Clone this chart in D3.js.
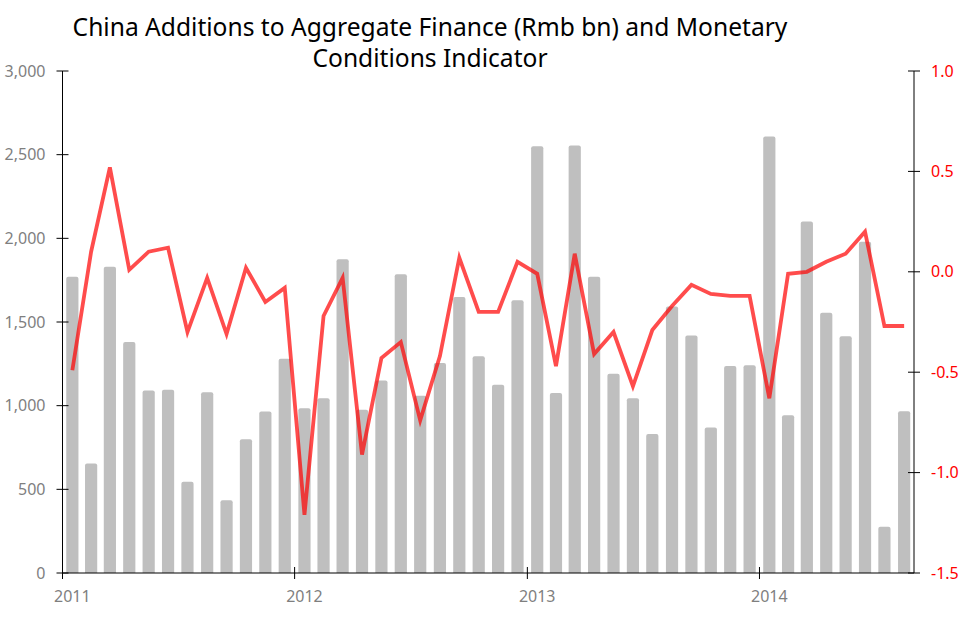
<!DOCTYPE html>
<html>
<head>
<meta charset="utf-8">
<script src="https://cdn.jsdelivr.net/npm/d3@7"></script>
<style>
  html, body { margin: 0; padding: 0; background: #fff; }
  svg { display: block; }
  text { font-family: "Noto Sans", "Open Sans", sans-serif; }
</style>
</head>
<body>
<svg id="chart" width="978" height="639"></svg>
<script>
// ---- data ----
const months = [
  "2011-01","2011-02","2011-03","2011-04","2011-05","2011-06","2011-07","2011-08","2011-09","2011-10","2011-11","2011-12",
  "2012-01","2012-02","2012-03","2012-04","2012-05","2012-06","2012-07","2012-08","2012-09","2012-10","2012-11","2012-12",
  "2013-01","2013-02","2013-03","2013-04","2013-05","2013-06","2013-07","2013-08","2013-09","2013-10","2013-11","2013-12",
  "2014-01","2014-02","2014-03","2014-04","2014-05","2014-06","2014-07","2014-08"
];
const aggregateFinance = [
  1770, 655, 1830, 1380, 1090, 1095, 545, 1080, 435, 800, 965, 1280,
  985, 1045, 1875, 975, 1150, 1785, 1060, 1255, 1650, 1295, 1125, 1630,
  2550, 1075, 2555, 1770, 1190, 1045, 830, 1592, 1420, 870, 1237, 1242,
  2608, 942, 2100, 1555, 1415, 1980, 277, 967
];
const monetaryConditions = [
  -0.49, 0.10, 0.52, 0.01, 0.10, 0.12, -0.30, -0.03, -0.31, 0.02, -0.15, -0.08,
  -1.21, -0.22, -0.03, -0.91, -0.43, -0.35, -0.74, -0.42, 0.07, -0.20, -0.20, 0.05,
  -0.01, -0.47, 0.09, -0.41, -0.30, -0.57, -0.29, -0.17, -0.065, -0.11, -0.12, -0.12,
  -0.63, -0.01, 0.00, 0.05, 0.09, 0.20, -0.27, -0.27
];
const leftTicks = [0, 500, 1000, 1500, 2000, 2500, 3000];
const rightTicks = [-1.5, -1.0, -0.5, 0.0, 0.5, 1.0];
const yearTicks = ["2011", "2012", "2013", "2014"];
const titleLines = ["China Additions to Aggregate Finance (Rmb bn) and Monetary", "Conditions Indicator"];

// ---- layout ----
const svg = d3.select("#chart");
const pL = 62.5, pR = 914, pT = 71, pB = 573;
const parseM = d3.timeParse("%Y-%m");
const dates = months.map(parseM);

const x = d3.scaleTime()
  .domain([new Date(2011, 0, 1), new Date(2014, 8, 1)])
  .range([pL, pR]);
const yL = d3.scaleLinear().domain([0, 3000]).range([pB, pT]);
const yR = d3.scaleLinear().domain([-1.5, 1.0]).range([pB, pT]);

const mid = d => {
  const n = d3.timeMonth.offset(d, 1);
  return (x(d) + x(n)) / 2;
};
const barW = 12.2;

// bars
svg.append("g").selectAll("path")
  .data(aggregateFinance)
  .join("path")
  .attr("fill", "#bfbfbf")
  .attr("d", (v, i) => {
    const cx = mid(dates[i]);
    const x0 = cx - barW / 2, x1 = cx + barW / 2;
    const y0 = yL(v), yb = yL(0);
    const r = 2;
    return `M${x0},${yb}L${x0},${y0 + r}Q${x0},${y0} ${x0 + r},${y0}L${x1 - r},${y0}Q${x1},${y0} ${x1},${y0 + r}L${x1},${yb}Z`;
  });

// line
const line = d3.line()
  .x((v, i) => mid(dates[i]))
  .y(v => yR(v));
svg.append("path")
  .datum(monetaryConditions)
  .attr("fill", "none")
  .attr("stroke", "#ff0000")
  .attr("stroke-opacity", 0.7)
  .attr("stroke-width", 3.8)
  .attr("stroke-linejoin", "miter")
  .attr("d", line);

// axes
const axisColor = "#000";
// left axis
const gL = svg.append("g").attr("transform", `translate(${pL},0)`);
gL.append("line").attr("y1", pT).attr("y2", pB).attr("stroke", axisColor);
gL.selectAll(".t").data(leftTicks).join("line")
  .attr("x1", -6).attr("x2", 6)
  .attr("y1", d => yL(d)).attr("y2", d => yL(d))
  .attr("stroke", axisColor);
gL.selectAll("text").data(leftTicks).join("text")
  .attr("x", -17).attr("y", d => yL(d))
  .attr("dy", "0.35em")
  .attr("text-anchor", "end")
  .attr("fill", "#7f7f7f")
  .attr("font-size", 16)
  .text(d => d3.format(",")(d));

// right axis
const gR = svg.append("g").attr("transform", `translate(${pR},0)`);
gR.append("line").attr("y1", pT).attr("y2", pB).attr("stroke", axisColor);
gR.selectAll(".t").data(rightTicks).join("line")
  .attr("x1", -6).attr("x2", 6)
  .attr("y1", d => yR(d)).attr("y2", d => yR(d))
  .attr("stroke", axisColor);
gR.selectAll("text").data(rightTicks).join("text")
  .attr("x", 17).attr("y", d => yR(d))
  .attr("dy", "0.35em")
  .attr("text-anchor", "start")
  .attr("fill", "#ff0000")
  .attr("font-size", 16)
  .text(d => d3.format(".1f")(d).replace("−", "-"));

// bottom axis
const gB = svg.append("g").attr("transform", `translate(0,${pB})`);
gB.append("line").attr("x1", pL).attr("x2", pR).attr("stroke", axisColor);
const yearDates = yearTicks.map(y => new Date(+y, 0, 1));
gB.selectAll(".t").data(yearDates).join("line")
  .attr("x1", d => x(d)).attr("x2", d => x(d))
  .attr("y1", (d, i) => i === 0 ? 0 : -6).attr("y2", 6)
  .attr("stroke", axisColor);
gB.selectAll("text").data(yearDates).join("text")
  .attr("x", d => mid(d))
  .attr("y", 29)
  .attr("text-anchor", "middle")
  .attr("fill", "#7f7f7f")
  .attr("font-size", 16)
  .text(d => d3.timeFormat("%Y")(d));

// title
svg.append("g").selectAll("text").data(titleLines).join("text")
  .attr("x", 430)
  .attr("y", (d, i) => 36 + i * 31)
  .attr("text-anchor", "middle")
  .attr("fill", "#000")
  .attr("font-size", 24.6)
  .text(d => d);
</script>
</body>
</html>
